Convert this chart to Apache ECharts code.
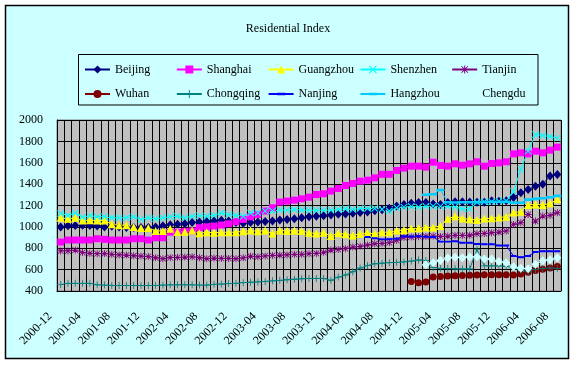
<!DOCTYPE html>
<html><head><meta charset="utf-8">
<script src="https://cdn.jsdelivr.net/npm/echarts@6/dist/echarts.min.js"></script>
<style>html,body{margin:0;padding:0;background:#fff}#c{width:576px;height:365px}</style>
</head><body><div id="c"></div>
<script>
const months = ['2000-12',
'2001-01','2001-02','2001-03','2001-04','2001-05','2001-06','2001-07','2001-08','2001-09','2001-10','2001-11','2001-12',
'2002-01','2002-02','2002-03','2002-04','2002-05','2002-06','2002-07','2002-08','2002-09','2002-10','2002-11','2002-12',
'2003-01','2003-02','2003-03','2003-04','2003-05','2003-06','2003-07','2003-08','2003-09','2003-10','2003-11','2003-12',
'2004-01','2004-02','2004-03','2004-04','2004-05','2004-06','2004-07','2004-08','2004-09','2004-10','2004-11','2004-12',
'2005-01','2005-02','2005-03','2005-04','2005-05','2005-06','2005-07','2005-08','2005-09','2005-10','2005-11','2005-12',
'2006-01','2006-02','2006-03','2006-04','2006-05','2006-06','2006-07','2006-08'];

const yTicks = [400, 2000, 200]; // min, max, step

const beijing = [1000,1010,1012,1015,1012,1008,1000,1005,
 998,995,995,993,995,1000,1010,1020,1025,1030,
 1040,1045,1050,1055,1062,1055,1040,1035,1040,1045,
 1050,1055,1065,1070,1075,1085,1095,1100,1105,1112,
 1118,1120,1128,1135,1140,1150,1160,1175,1195,1210,
 1222,1228,1228,1215,1210,1228,1235,1235,1232,1230,
 1230,1245,1240,1245,1275,1320,1350,1380,1400,1475,
 1490];
const shanghai = [858,877,877,877,877,889,883,877,877,877,
 889,889,877,898,898,950,950,958,962,992,
 1001,1007,1017,1029,1048,1070,1095,1116,1148,1179,
 1232,1241,1250,1263,1278,1303,1310,1335,1359,1387,
 1406,1428,1437,1459,1492,1492,1528,1550,1568,1568,
 1559,1605,1574,1568,1590,1577,1590,1609,1568,1593,
 1599,1609,1683,1693,1683,1708,1693,1718,1746];
const guangzhou = [1085,1075,1085,1060,1062,1060,1060,1025,1015,1015,
 1000,990,990,962,962,982,952,955,965,940,
 950,945,950,950,950,960,965,960,965,937,
 967,962,965,962,945,938,945,915,940,932,
 920,935,942,935,950,950,965,970,985,988,
 995,995,1008,1075,1100,1078,1072,1065,1078,1080,
 1088,1095,1135,1142,1205,1210,1205,1220,1258];
const shenzhen = [1125,1107,1130,1090,1105,1095,1095,1085,1085,1085,
 1095,1070,1085,1076,1085,1095,1100,1085,1100,1105,
 1100,1107,1130,1115,1107,1100,1130,1132,1148,1148,
 1157,1157,1163,1157,1157,1155,1157,1157,1163,1169,
 1163,1172,1172,1172,1165,1148,1178,1185,1192,1185,
 1192,1194,1192,1192,1185,1170,1170,1230,1235,1235,
 1240,1245,1330,1540,1710,1865,1855,1845,1830];
const tianjin = [775,775,783,760,752,749,750,743,738,736,
 730,727,722,711,702,712,715,717,720,711,
 702,708,705,705,702,710,725,720,728,733,
 736,738,743,743,749,752,762,783,789,796,
 811,818,830,842,845,852,873,900,905,908,
 910,914,910,914,920,920,922,936,938,945,
 951,961,1023,1039,1116,1054,1101,1107,1132];
const wuhan = [null,null,null,null,null,null,null,null,null,null,
 null,null,null,null,null,null,null,null,null,null,
 null,null,null,null,null,null,null,null,null,null,
 null,null,null,null,null,null,null,null,null,null,
 null,null,null,null,null,null,null,null,490,478,
 485,530,535,540,542,545,548,550,552,552,
 552,553,550,560,575,592,603,615,630];
const chongqing = [460,472,472,472,472,458,455,452,452,452,
 452,452,452,452,455,458,458,458,458,455,
 455,462,465,470,472,478,482,485,490,495,
 500,505,510,515,517,518,518,500,530,550,
 580,615,638,655,660,665,668,672,680,690,
 685,620,612,610,608,606,606,790,635,635,
 635,632,615,595,580,600,612,615,612];
const nanjing = [null,null,null,null,null,null,null,null,null,null,
 null,null,null,null,null,null,null,null,null,null,
 null,null,null,null,null,null,null,null,null,null,
 null,null,null,null,null,null,null,null,null,null,
 null,null,905,893,883,885,890,912,910,912,
 908,905,862,862,865,852,852,840,838,838,
 825,825,727,715,727,765,772,772,772];
const hangzhou = [null,null,null,null,null,null,null,null,null,null,
 null,null,null,null,null,null,null,null,null,null,
 null,null,null,null,null,null,null,null,null,null,
 null,null,null,null,null,null,null,null,null,null,
 null,null,null,null,null,null,null,null,null,null,
 1300,1305,1345,1230,1228,1230,1230,1230,1232,1235,
 1235,1235,1225,1225,1255,1262,1268,1278,1290];
const chengdu = [null,null,null,null,null,null,null,null,null,null,
 null,null,null,null,null,null,null,null,null,null,
 null,null,null,null,null,null,null,null,null,null,
 null,null,null,null,null,null,null,null,null,null,
 null,null,null,null,null,null,null,null,null,null,
 645,665,685,708,715,712,718,720,700,700,
 675,665,628,612,608,650,682,693,710];

const names = ['Beijing','Shanghai','Guangzhou','Shenzhen','Tianjin','Wuhan','Chongqing','Nanjing','Hangzhou','Chengdu'];

const P_X = 'path://M0,1 L1,0 L5,4 L9,0 L10,1 L6,5 L10,9 L9,10 L5,6 L1,10 L0,9 L4,5 Z';
const P_PLUS = 'path://M4.4,0 H5.6 V4.4 H10 V5.6 H5.6 V10 H4.4 V5.6 H0 V4.4 H4.4 Z';
const P_STAR = 'path://M4.4,0 H5.6 V4.4 H10 V5.6 H5.6 V10 H4.4 V5.6 H0 V4.4 H4.4 Z M0.5,1.3 L1.3,0.5 L5,4.2 L8.7,0.5 L9.5,1.3 L5.8,5 L9.5,8.7 L8.7,9.5 L5,5.8 L1.3,9.5 L0.5,8.7 L4.2,5 Z';
// dash inside a square box (zero-area subpaths keep the box square)
const P_DASH = 'path://M0,0 L10,0 Z M0,10 L10,10 Z M0,3.4 H10 V6.6 H0 Z';

const defs = [
  [beijing, '#000080', 'diamond', [8,9]],
  [shanghai, '#FF00FF', 'rect', 7],
  [guangzhou, '#FFFF00', 'triangle', 8],
  [shenzhen, '#00FFFF', P_X, 7],
  [tianjin, '#800080', P_STAR, 7],
  [wuhan, '#800000', 'circle', 7],
  [chongqing, '#008080', P_PLUS, 7],
  [nanjing, '#0000FF', P_DASH, 6],
  [hangzhou, '#00CCFF', P_DASH, 8],
  [chengdu, '#CCFFFF', 'diamond', [8,9]]
];

const FONT = 'Liberation Serif';
const series = defs.map((d, i) => ({
  name: names[i], type: 'line', data: d[0],
  symbol: d[2], symbolSize: d[3], showAllSymbol: true,
  lineStyle: {color: d[1], width: 1},
  itemStyle: {color: d[1], borderWidth: 0},
  emphasis: {disabled: true}, connectNulls: false
}));

// one legend per entry, laid out on a 5 x 2 grid
const legends = names.map((n, i) => ({
  data: [n], orient: 'horizontal', padding: 0,
  left: 84 + 91.8 * (i % 5), top: i < 5 ? 63.5 : 88,
  itemWidth: 25, itemHeight: 10, selectedMode: false,
  textStyle: {fontFamily: FONT, fontSize: 12, color: '#000'}
}));

const chart = echarts.init(document.getElementById('c'), null, {renderer: 'canvas'});
chart.setOption({
  animation: false,
  backgroundColor: '#ffffff',
  title: {text: 'Residential Index', left: 'center', top: 23, padding: 0,
    textStyle: {fontFamily: FONT, fontSize: 12, fontWeight: 'normal', color: '#000'}},
  graphic: [
    {type: 'rect', z: -10, silent: true, shape: {x: 5.5, y: 5.5, width: 563, height: 353},
     style: {fill: '#CCFFFF', stroke: '#000', lineWidth: 1.5}},
    {type: 'rect', z: 10, silent: true, shape: {x: 78.5, y: 54.5, width: 459.5, height: 50.5},
     style: {fill: 'none', stroke: '#000', lineWidth: 1}}
  ],
  legend: legends,
  grid: {left: 57, top: 120, width: 504, height: 171, show: true,
    backgroundColor: '#C0C0C0', borderColor: '#808080', borderWidth: 1},
  xAxis: {
    type: 'category', data: months, boundaryGap: true,
    axisLine: {lineStyle: {color: '#000', width: 1}},
    axisTick: {show: false},
    axisLabel: {interval: 3, rotate: 45, fontFamily: FONT, fontSize: 12, color: '#000',
      margin: 13, padding: [0, 15, 0, 0]},
    splitLine: {show: true, interval: 0, lineStyle: {color: '#000', width: 1}}
  },
  yAxis: {
    type: 'value', min: yTicks[0], max: yTicks[1], interval: yTicks[2],
    axisLine: {show: true, lineStyle: {color: '#000', width: 1}},
    axisTick: {show: false},
    axisLabel: {fontFamily: FONT, fontSize: 12, color: '#000', margin: 14,
      formatter: v => String(v)},
    splitLine: {show: true, lineStyle: {color: '#000', width: 1}}
  },
  series: series
});
</script></body></html>
